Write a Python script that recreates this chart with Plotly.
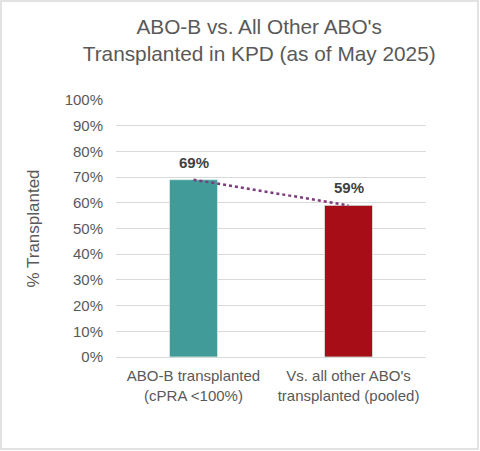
import plotly.graph_objects as go

categories = ["ABO-B transplanted<br>(cPRA &lt;100%)", "Vs. all other ABO's<br>transplanted (pooled)"]
values = [0.69, 0.59]
labels = ["69%", "59%"]
bar_colors = ["#419b98", "#a60d16"]

grey = "#595959"
font_family = "Liberation Sans, Arial, sans-serif"

fig = go.Figure()
fig.add_trace(go.Bar(
    x=categories,
    y=values,
    width=0.31,
    marker=dict(color=bar_colors, line=dict(color="#d8ecea", width=0.8)),
    showlegend=False,
))
fig.add_trace(go.Scatter(
    x=categories,
    y=values,
    mode="lines",
    line=dict(color="#7b3c7b", width=2.5, dash="dot"),
    showlegend=False,
    hoverinfo="skip",
))

# data labels above the bars
for cat, val, lab in zip(categories, values, labels):
    fig.add_annotation(
        x=cat, y=val, text=lab, showarrow=False,
        yanchor="bottom", yshift=7,
        font=dict(family=font_family, size=15, color="#404040", weight="bold"),
    )

fig.update_layout(
    width=480,
    height=451,
    margin=dict(l=116, r=54, t=100, b=94),
    paper_bgcolor="white",
    plot_bgcolor="white",
    font=dict(family=font_family, color=grey),
    title=dict(
        text="ABO-B vs. All Other ABO's<br>Transplanted in KPD (as of May 2025)",
        x=0.54, xanchor="center", y=0.925, yanchor="top",
        font=dict(size=20.8, color=grey),
    ),
    shapes=[dict(
        type="rect", xref="paper", yref="paper",
        x0=-115 / 310, x1=362 / 310, y0=-92 / 257, y1=356 / 257,
        line=dict(color="#d9d9d9", width=1.5), fillcolor="rgba(0,0,0,0)",
        layer="below",
    )],
)
fig.update_xaxes(
    showline=False, showgrid=False, ticks="",
    ticklabelstandoff=8,
    tickfont=dict(size=15, color=grey),
)
fig.update_yaxes(
    range=[0, 1], dtick=0.1, tickformat=".0%",
    showgrid=True, gridcolor="#d9d9d9", gridwidth=1,
    zeroline=True, zerolinecolor="#d9d9d9", zerolinewidth=1,
    ticks="", ticklabelstandoff=12,
    tickfont=dict(size=15, color=grey),
    title=dict(text="% Transplanted", font=dict(size=17, color=grey), standoff=20),
)

fig.write_html(
    "out.html",
    config={"displayModeBar": False},
    post_script="document.body.style.margin='0';",
)
